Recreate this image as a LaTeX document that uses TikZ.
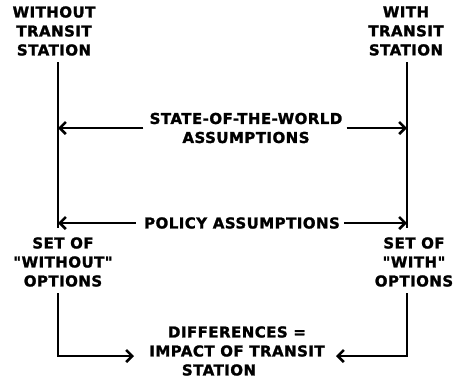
\documentclass[tikz,border=0pt]{standalone}
\usepackage{fontspec}
\newfontfamily\labfont{DejaVu Sans}[LetterSpace=3, BoldFeatures={FakeBold=1.5}]
\usetikzlibrary{arrows.meta}
\begin{document}
\begin{tikzpicture}[x=1pt,y=-1pt,
  lab/.style={font=\labfont\bfseries\fontsize{15}{19}\selectfont, align=center, inner sep=0pt},
  ln/.style={line width=2.6pt},
  arr/.style={line width=2.6pt,-{Straight Barb[length=6pt,width=12pt]}}]
\useasboundingbox (0,0) rectangle (459,381);
% text nodes
\node[lab] (wo) at (54,31) {WITHOUT\\TRANSIT\\STATION};
\node[lab] (wi) at (406,31) {WITH\\TRANSIT\\STATION};
\node[lab] (sw) at (246,128) {STATE-OF-THE-WORLD\\ASSUMPTIONS};
\node[lab] (pa) at (242,223) {POLICY ASSUMPTIONS};
\node[lab] (so) at (63,262) {SET OF\\"WITHOUT"\\OPTIONS};
\node[lab] (si) at (414,262) {SET OF\\"WITH"\\OPTIONS};
\node[lab] (df) at (237,351) {DIFFERENCES =\\IMPACT OF TRANSIT\\STATION\hspace*{36pt}};
% line coordinates
\coordinate (L1) at (58,62);
\coordinate (L2) at (58,228);
\coordinate (R1) at (407,62);
\coordinate (R2) at (407,228);
\coordinate (BL) at (58,293);
\coordinate (BR) at (407,293);
\coordinate (dl) at (134,356);
\coordinate (dr) at (336,356);
% main verticals
\draw[ln] (L1) -- (L2);
\draw[ln] (R1) -- (R2);
% state-of-the-world arrows
\draw[arr] ([xshift=-6pt]sw.west) -- (sw.west -| L1);
\draw[arr] ([xshift=4pt]sw.east) -- (sw.east -| R1);
% policy arrows
\draw[arr] ([xshift=-8pt]pa.west) -- (pa.west -| L1);
\draw[arr] ([xshift=4pt]pa.east) -- (pa.east -| R1);
% bottom arrows
\draw[arr] (BL) |- (dl);
\draw[arr] (BR) |- (dr);
\end{tikzpicture}
\end{document}
